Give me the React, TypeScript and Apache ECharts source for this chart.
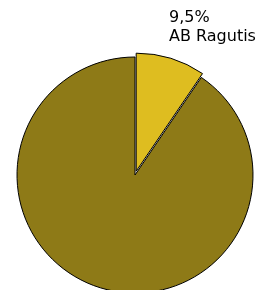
import React, { useEffect, useRef } from "react";
import * as echarts from "echarts";

const names = ["AB Ragutis", "Kiti"];
const values = [9.5, 90.5];
const labels = ["9,5%", ""];
const colors = ["#DEBD20", "#8E7A17"];

export default function App() {
  const ref = useRef<HTMLDivElement>(null);
  useEffect(() => {
    const chart = echarts.init(ref.current!, null, { renderer: "svg" });
    chart.setOption({
      animation: false,
      graphic: [
        {
          type: "text",
          left: 169,
          top: 7,
          style: {
            text: `${labels[0]}\n${names[0]}`,
            fontFamily: "DejaVu Sans",
            fontSize: 16,
            lineHeight: 19,
            fill: "#000",
          },
        },
      ],
      series: [
        {
          type: "pie",
          center: [135, 175],
          radius: 118,
          startAngle: 90,
          clockwise: true,
          selectedMode: "single",
          selectedOffset: 4,
          emphasis: { disabled: true },
          itemStyle: { borderColor: "#000", borderWidth: 1 },
          label: { show: false },
          labelLine: { show: false },
          data: names.map((n, i) => ({
            name: n,
            value: values[i],
            selected: i === 0,
            itemStyle: { color: colors[i] },
          })),
        },
      ],
    });
    return () => chart.dispose();
  }, []);
  return (
    <div
      ref={ref}
      style={{ position: "fixed", left: 0, top: 0, width: 259, height: 290 }}
    />
  );
}
